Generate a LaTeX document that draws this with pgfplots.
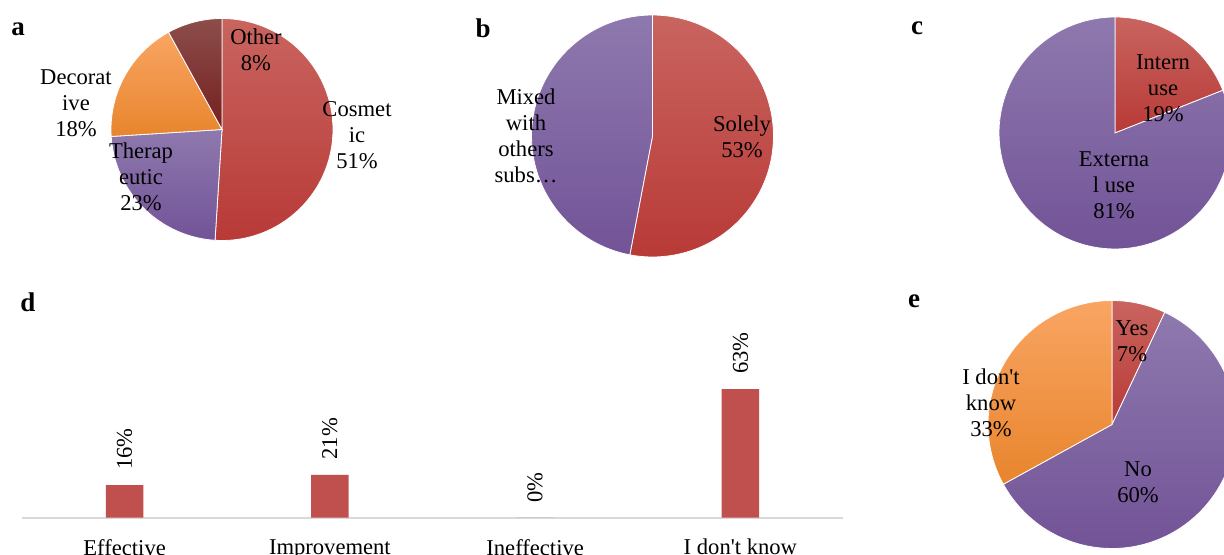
\documentclass[border=0pt]{standalone}
\usepackage{fontspec}
\setmainfont{Liberation Serif}
\usepackage{pgfplots}
\pgfplotsset{compat=1.18}
\definecolor{redT}{HTML}{C9645F}
\definecolor{redB}{HTML}{B83A37}
\definecolor{purT}{HTML}{8E79AE}
\definecolor{purB}{HTML}{725397}
\definecolor{oraT}{HTML}{F9A563}
\definecolor{oraB}{HTML}{E8852D}
\definecolor{drT}{HTML}{8C4D4B}
\definecolor{drB}{HTML}{74201E}
\definecolor{barred}{HTML}{C0504D}
\newcommand\lbl{\fontsize{11.3}{13}\selectfont}
\newcommand\pan{\fontsize{13.5}{16}\selectfont\bfseries}
\pgfplotsset{
  pie/.style={anchor=center, scale only axis, hide axis, axis equal image,
    xmin=-1, xmax=1, ymin=-1, ymax=1, clip=false},
  wedge/.style={draw=white, line width=0.4pt, samples=120, variable=\t},
}
% wedge: ({sin(3.6*t)},{cos(3.6*t)}) for t running over cumulative percentages
\begin{document}
\begin{tikzpicture}
\clip (0pt,0pt) rectangle (612pt,-277.5pt);
\path[use as bounding box] (0pt,0pt) rectangle (612pt,-277.5pt);

% ---------------- a ----------------
\begin{axis}[pie, at={(111pt,-64.75pt)}, width=111pt, height=111pt]
\addplot[wedge, top color=redT, bottom color=redB, domain=0:51] ({sin(3.6*\t)},{cos(3.6*\t)}) -- (0,0) -- cycle;
\addplot[wedge, top color=purT, bottom color=purB, domain=51:74] ({sin(3.6*\t)},{cos(3.6*\t)}) -- (0,0) -- cycle;
\addplot[wedge, top color=oraT, bottom color=oraB, domain=74:92] ({sin(3.6*\t)},{cos(3.6*\t)}) -- (0,0) -- cycle;
\addplot[wedge, top color=drT, bottom color=drB, domain=92:100] ({sin(3.6*\t)},{cos(3.6*\t)}) -- (0,0) -- cycle;
\end{axis}
\node[font=\lbl, align=center] at (128pt,-25pt) {Other\\8\%};
\node[font=\lbl, align=center] at (178.5pt,-67.5pt) {Cosmet\\ic\\51\%};
\node[font=\lbl, align=center] at (38pt,-51.5pt) {Decorat\\ive\\18\%};
\node[font=\lbl, align=center] at (70.5pt,-88.5pt) {Therap\\eutic\\23\%};

% ---------------- b ----------------
\begin{axis}[pie, at={(326.25pt,-68pt)}, width=121pt, height=121pt]
\addplot[wedge, top color=redT, bottom color=redB, domain=0:53] ({sin(3.6*\t)},{cos(3.6*\t)}) -- (0,0) -- cycle;
\addplot[wedge, top color=purT, bottom color=purB, domain=53:100] ({sin(3.6*\t)},{cos(3.6*\t)}) -- (0,0) -- cycle;
\end{axis}
\node[font=\lbl, align=center] at (263pt,-68pt) {Mixed\\with\\others\\subs…};
\node[font=\lbl, align=center] at (371pt,-68.5pt) {Solely\\53\%};

% ---------------- c ----------------
\begin{axis}[pie, at={(557.5pt,-66.5pt)}, width=116pt, height=116pt]
\addplot[wedge, top color=redT, bottom color=redB, domain=0:19] ({sin(3.6*\t)},{cos(3.6*\t)}) -- (0,0) -- cycle;
\addplot[wedge, top color=purT, bottom color=purB, domain=19:100] ({sin(3.6*\t)},{cos(3.6*\t)}) -- (0,0) -- cycle;
\end{axis}
\node[font=\lbl, align=center] at (581.5pt,-44pt) {Intern\\use\\19\%};
\node[font=\lbl, align=center] at (557pt,-92.5pt) {Externa\\l use\\81\%};

% ---------------- e ----------------
\begin{axis}[pie, at={(556pt,-212.25pt)}, width=124pt, height=124pt]
\addplot[wedge, top color=redT, bottom color=redB, domain=0:7] ({sin(3.6*\t)},{cos(3.6*\t)}) -- (0,0) -- cycle;
\addplot[wedge, top color=purT, bottom color=purB, domain=7:67] ({sin(3.6*\t)},{cos(3.6*\t)}) -- (0,0) -- cycle;
\addplot[wedge, top color=oraT, bottom color=oraB, domain=67:100] ({sin(3.6*\t)},{cos(3.6*\t)}) -- (0,0) -- cycle;
\end{axis}
\node[font=\lbl, align=center] at (566pt,-170.5pt) {Yes\\7\%};
\node[font=\lbl, align=center] at (495.5pt,-201.5pt) {I don\textquotesingle t\\know\\33\%};
\node[font=\lbl, align=center] at (569pt,-241pt) {No\\60\%};

% ---------------- d ----------------
\begin{axis}[at={(11pt,-258.85pt)}, anchor=south west, scale only axis,
  width=410.5pt, height=102pt,
  xmin=-0.5, xmax=3.5, ymin=0, ymax=100,
  axis x line=bottom, axis y line=none,
  x axis line style={draw=black!15, line width=0.8pt, -},
  xtick={0,1,2,3},
  xticklabels={Effective, Improvement, Ineffective, I don\textquotesingle t know},
  xtick style={draw=none},
  xticklabel style={font=\lbl, yshift=-3pt},
  ytick=\empty,
  ybar, bar width=18.75pt,
  nodes near coords={\pgfmathprintnumber[assume math mode=true]{\pgfplotspointmeta}\%},
  nodes near coords style={font=\lbl, rotate=90, anchor=west, inner xsep=7.5pt},
  clip=false]
\addplot[fill=barred, draw=none] coordinates {(0,16) (1,21) (2,0) (3,63)};
\end{axis}

% panel letters
\node[font=\pan, anchor=base] at (9pt,-17.8pt) {a};
\node[font=\pan, anchor=base] at (241.5pt,-19pt) {b};
\node[font=\pan, anchor=base] at (458.5pt,-17.5pt) {c};
\node[font=\pan, anchor=base] at (14pt,-156pt) {d};
\node[font=\pan, anchor=base] at (457pt,-153.5pt) {e};
\end{tikzpicture}
\end{document}
